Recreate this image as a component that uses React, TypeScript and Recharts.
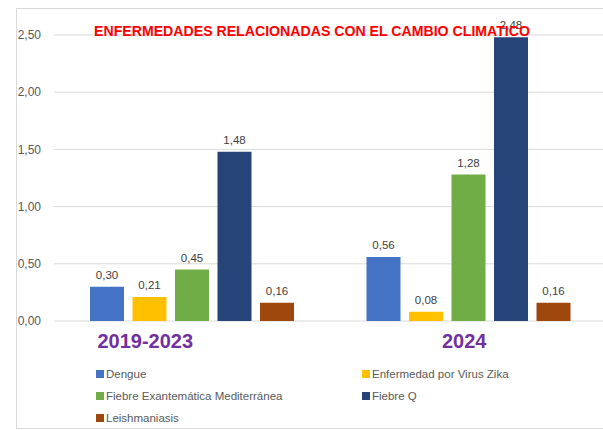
import React from 'react';
import { BarChart, Bar, XAxis, YAxis, CartesianGrid, LabelList, Legend } from 'recharts';

const categories = ['2019-2023', '2024'];
const dengue = [0.3, 0.56];
const zika = [0.21, 0.08];
const fiebreExantematica = [0.45, 1.28];
const fiebreQ = [1.48, 2.48];
const leishmaniasis = [0.16, 0.16];
const yTicks = [0, 0.5, 1, 1.5, 2, 2.5];
const seriesNames = [
  'Dengue',
  'Enfermedad por Virus Zika',
  'Fiebre Exantemática Mediterránea',
  'Fiebre Q',
  'Leishmaniasis',
];
const title = 'ENFERMEDADES RELACIONADAS CON EL CAMBIO CLIMATICO';

const seriesKeys = ['dengue', 'zika', 'fem', 'fq', 'leish'];
const seriesColors = ['#4472C4', '#FFC000', '#70AD47', '#264478', '#9E480E'];
const labelShift = [-47, -4.5];

const data = categories.map((c, i) => ({
  cat: c,
  dengue: dengue[i],
  zika: zika[i],
  fem: fiebreExantematica[i],
  fq: fiebreQ[i],
  leish: leishmaniasis[i],
}));

const FONT = '"Liberation Sans", Arial, sans-serif';
const fmt = (v: any) => Number(v).toFixed(2).replace('.', ',');

const CatTick = (props: any) => {
  const { x, y, payload, index } = props;
  return (
    <text
      x={x + (labelShift[index] || 0)}
      y={y + 27}
      textAnchor="middle"
      fill="#7030A0"
      fontFamily={FONT}
      fontWeight="bold"
      fontSize={20}
    >
      {payload.value}
    </text>
  );
};

const LegendContent = (props: any) => {
  const payload = props.payload || [];
  const colX = [96, 362];
  const rowY = [370, 392, 414];
  return (
    <div style={{ position: 'relative', width: 0, height: 0, overflow: 'visible' }}>
      {payload.map((p: any, i: number) => (
        <div
          key={i}
          style={{
            position: 'absolute',
            left: colX[i % 2],
            top: rowY[Math.floor(i / 2)] - 3,
            display: 'flex',
            alignItems: 'center',
            fontFamily: FONT,
            fontSize: 11.5,
            color: '#595959',
            whiteSpace: 'nowrap',
            lineHeight: '14px',
          }}
        >
          <span style={{ display: 'inline-block', width: 8, height: 8, background: p.color, marginRight: 2 }} />
          {p.value}
        </div>
      ))}
    </div>
  );
};

export default function App() {
  return (
    <div style={{ position: 'absolute', left: 0, top: 0, width: 603, height: 430, overflow: 'hidden', background: '#fff' }}>
      <div
        style={{
          position: 'absolute',
          left: 16,
          top: 8,
          width: 600,
          height: 419,
          border: '1px solid #d9d9d9',
          borderRight: 'none',
        }}
      />
      <div style={{ position: 'absolute', left: 0, top: 0 }}>
        <BarChart
          width={612}
          height={430}
          data={data}
          margin={{ top: 35, right: 5, bottom: 79, left: 0 }}
          barSize={34}
          barGap={8.5}
        >
          <CartesianGrid vertical={false} stroke="#d9d9d9" strokeWidth={1} />
          <XAxis
            dataKey="cat"
            axisLine={false}
            tickLine={false}
            tickSize={0}
            tickMargin={0}
            tick={<CatTick />}
            interval={0}
            height={30}
          />
          <YAxis
            domain={[0, 2.5]}
            ticks={yTicks}
            width={54}
            axisLine={false}
            tickLine={false}
            tickSize={0}
            tickMargin={13}
            tickFormatter={fmt}
            tick={{ fill: '#595959', fontSize: 12, fontFamily: FONT }}
          />
          <Legend
            content={<LegendContent />}
            wrapperStyle={{ position: 'absolute', left: 0, top: 0, width: 0, height: 0, overflow: 'visible' }}
          />
          {seriesKeys.map((k, i) => (
            <Bar key={k} dataKey={k} name={seriesNames[i]} fill={seriesColors[i]} isAnimationActive={false}>
              <LabelList
                dataKey={k}
                position="top"
                offset={8}
                formatter={fmt}
                fill="#404040"
                fontSize={11.5}
                fontFamily={FONT}
              />
            </Bar>
          ))}
        </BarChart>
      </div>
      <svg width={603} height={60} style={{ position: 'absolute', left: 0, top: 0, pointerEvents: 'none' }}>
        <text
          x={94}
          y={36}
          fill="#FF0000"
          fontFamily={FONT}
          fontWeight="bold"
          fontSize={15.5}
          textLength={436}
          lengthAdjust="spacingAndGlyphs"
        >
          {title}
        </text>
      </svg>
    </div>
  );
}
